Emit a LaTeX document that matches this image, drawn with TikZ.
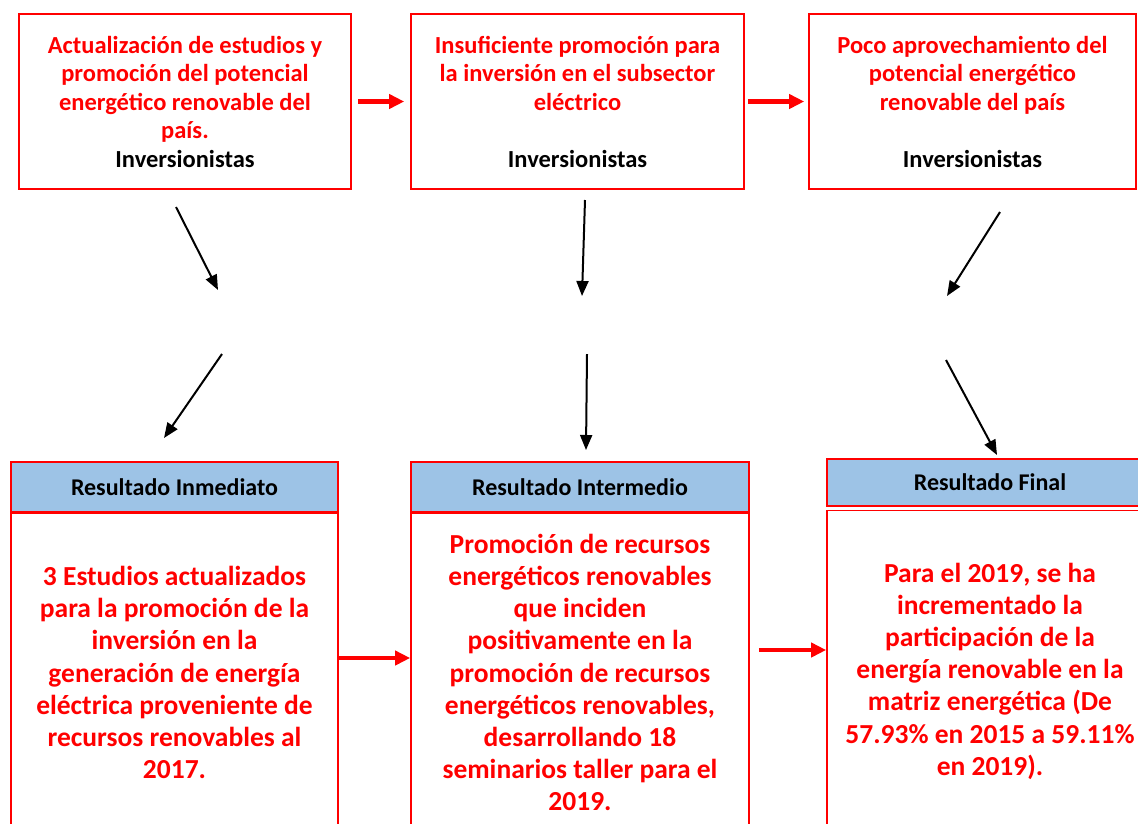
\documentclass[tikz,border=0pt]{standalone}
\usepackage{fontspec}
\setmainfont{Carlito}
\usetikzlibrary{arrows.meta, positioning, calc}
\definecolor{hdrblue}{RGB}{157,195,230}

\begin{document}
\begin{tikzpicture}[x=1pt, y=-1pt,
    topbox/.style={draw=red, line width=1.6pt, align=center, text=red,
        font=\bfseries\fontsize{24.5}{28.5}\selectfont, inner sep=0pt},
    hdrbox/.style={draw=red, line width=1.6pt, fill=hdrblue, align=center,
        font=\bfseries\fontsize{24}{26}\selectfont, inner sep=0pt},
    bodybox/.style={draw=red, line width=1.6pt, align=center, text=red,
        font=\bfseries\fontsize{27.5}{32.2}\selectfont, inner sep=0pt},
    redarrow/.style={red, line width=4.5pt, -{Triangle[length=15pt,width=14pt]}},
    blkarrow/.style={black, line width=2pt, -{Triangle[length=15pt,width=12pt]}}]
        \useasboundingbox (0,0) rectangle (1138,823);

        % top row
        \node[topbox, minimum width=332pt, minimum height=175pt] (est) at (185,101.5)
            {Actualización de estudios y\\promoción del potencial\\energético renovable del\\país.\\
             \textcolor{black}{Inversionistas}};
        \node[topbox, minimum width=333pt, minimum height=175pt] (insuf) at (577.5,101.5)
            {Insuficiente promoción para\\la inversión en el subsector\\eléctrico\\[28.5pt]
             \textcolor{black}{Inversionistas}};
        \node[topbox, minimum width=327pt, minimum height=175pt] (poco) at (972.5,101.5)
            {Poco aprovechamiento del\\potencial energético\\renovable del país\\[28.5pt]
             \textcolor{black}{Inversionistas}};

        \draw[redarrow, shorten <=6pt, shorten >=6pt] (est.east) -- (insuf.west);
        \draw[redarrow, shorten <=3pt, shorten >=4pt] (insuf.east) -- (poco.west);

        % results
        \node[hdrbox, minimum width=327pt, minimum height=50pt] (hdrA) at (174.5,487) {Resultado Inmediato};
        \node[bodybox, minimum width=327pt, minimum height=318pt, anchor=north] (resA) at (hdrA.south)
            {3 Estudios actualizados\\para la promoción de la\\inversión en la\\generación de energía\\eléctrica proveniente de\\recursos renovables al\\2017.};

        \node[hdrbox, minimum width=338pt, minimum height=50pt] (hdrB) at (580,487) {Resultado Intermedio};
        \node[bodybox, minimum width=338pt, minimum height=318pt, anchor=north] (resB) at (hdrB.south)
            {Promoción de recursos\\energéticos renovables\\que inciden\\positivamente en la\\promoción de recursos\\energéticos renovables,\\desarrollando 18\\seminarios taller para el\\2019.};

        \node[hdrbox, minimum width=326pt, minimum height=47pt] (hdrC) at (990,482.5) {Resultado Final};
        \node[bodybox, minimum width=326pt, minimum height=321pt, anchor=north] (resC) at ([yshift=-3pt]hdrC.south)
            {Para el 2019, se ha\\incrementado la\\participación de la\\energía renovable en la\\matriz energética (De\\57.93\% en 2015 a 59.11\%\\en 2019).};

        \draw[redarrow] (resA.east |- 0,658) -- (resB.west |- 0,658);
        \draw[redarrow, shorten <=9pt] (resB.east |- 0,650) -- (resC.west |- 0,650);

        % links between rows
        \coordinate (a1) at (176,207);  \coordinate (a2) at (218,290);
        \coordinate (a3) at (222,354);  \coordinate (a4) at (164,438);
        \coordinate (b1) at (585,200);  \coordinate (b2) at (582,296);
        \coordinate (b3) at (587,354);  \coordinate (b4) at (586,450);
        \coordinate (c1) at (1000,212); \coordinate (c2) at (947,296);
        \coordinate (c3) at (946,360);  \coordinate (c4) at (997,455);
        \foreach \s/\e in {a1/a2, a3/a4, b1/b2, b3/b4, c1/c2, c3/c4}
            \draw[blkarrow] (\s) -- (\e);
    \end{tikzpicture}
\end{document}
